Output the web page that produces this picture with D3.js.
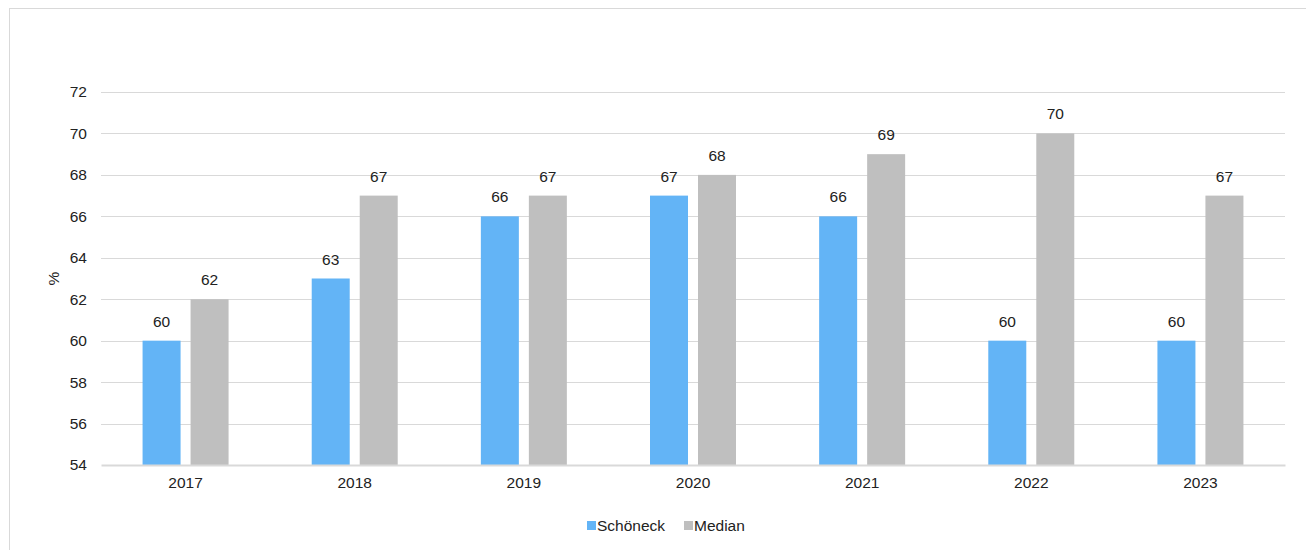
<!DOCTYPE html>
<html>
<head>
<meta charset="utf-8">
<script src="https://cdn.jsdelivr.net/npm/d3@7"></script>
<style>
  html, body { margin: 0; padding: 0; background: #fff; }
  svg { display: block; font-family: "Liberation Sans", Arial, sans-serif; }
</style>
</head>
<body>
<svg id="chart" width="1306" height="550"></svg>
<script>
// Years on the x axis
const years = ["2017", "2018", "2019", "2020", "2021", "2022", "2023"];
// Share in percent, per series
const schoeneck = [60, 63, 66, 67, 66, 60, 60];
const median = [62, 67, 67, 68, 69, 70, 67];
const seriesNames = ["Schöneck", "Median"];
const seriesColors = ["#63b4f6", "#bfbfbf"];
// Y axis ticks
const yTicks = [54, 56, 58, 60, 62, 64, 66, 68, 70, 72];

const FS = 15.5;
const svg = d3.select("#chart");
const W = 1306, H = 550;
const margin = { left: 101, right: 21, top: 92, bottom: 85 };

// Outer frame
svg.append("rect")
  .attr("x", 9.5).attr("y", 8.5)
  .attr("width", W + 10).attr("height", H + 10)
  .attr("fill", "none").attr("stroke", "#d9d9d9").attr("stroke-width", 1);

const x = d3.scaleBand().domain(years).range([margin.left, W - margin.right]);
const y = d3.scaleLinear().domain([54, 72]).range([H - margin.bottom, margin.top]);

// Horizontal gridlines
svg.append("g").selectAll("line").data(yTicks.slice(1)).join("line")
  .attr("x1", margin.left).attr("x2", W - margin.right)
  .attr("y1", d => Math.round(y(d)) + 0.5).attr("y2", d => Math.round(y(d)) + 0.5)
  .attr("stroke", "#d9d9d9").attr("stroke-width", 1);

// Y axis labels
const yAxis = d3.axisLeft(y).tickValues(yTicks).tickSize(0).tickPadding(14);
const gy = svg.append("g").attr("transform", `translate(${margin.left},0)`).call(yAxis);
gy.select(".domain").remove();
gy.selectAll("text").attr("font-size", FS).attr("fill", "#222")
  .attr("font-family", "Liberation Sans, Arial, sans-serif");

// Y axis title
svg.append("text")
  .attr("transform", `translate(59,${(margin.top + H - margin.bottom) / 2}) rotate(-90)`)
  .attr("text-anchor", "middle").attr("font-size", FS).attr("fill", "#222")
  .text("%");

// Bars
const barW = 38, gap = 10;
const data = years.map((yr, i) => ({ year: yr, values: [schoeneck[i], median[i]] }));
const groups = svg.append("g").selectAll("g").data(data).join("g");
groups.each(function (d) {
  const cx = x(d.year) + x.bandwidth() / 2;
  const g = d3.select(this);
  d.values.forEach((v, k) => {
    const bx = cx - gap / 2 - barW + k * (barW + gap);
    g.append("rect")
      .attr("x", bx).attr("y", y(v))
      .attr("width", barW).attr("height", y(54) - y(v))
      .attr("fill", seriesColors[k]);
    g.append("text")
      .attr("x", bx + barW / 2).attr("y", y(v) - 14)
      .attr("text-anchor", "middle").attr("font-size", FS).attr("fill", "#222")
      .text(v);
  });
});

// Baseline axis
const xAxis = d3.axisBottom(x).tickSize(0).tickPadding(12);
const gx = svg.append("g").attr("transform", `translate(0,${y(54)})`).call(xAxis);
gx.select(".domain").attr("stroke", "#d9d9d9").attr("stroke-width", 2);
gx.selectAll("text").attr("font-size", FS).attr("fill", "#222")
  .attr("font-family", "Liberation Sans, Arial, sans-serif");

// Legend
const legend = svg.append("g").attr("transform", "translate(587,521)");
const legendX = [0, 97];
seriesNames.forEach((name, k) => {
  const lg = legend.append("g").attr("transform", `translate(${legendX[k]},0)`);
  lg.append("rect").attr("width", 9).attr("height", 9).attr("fill", seriesColors[k]);
  lg.append("text").attr("x", 10).attr("y", 9.5).attr("font-size", FS).attr("fill", "#222")
    .text(name);
});
</script>
</body>
</html>
